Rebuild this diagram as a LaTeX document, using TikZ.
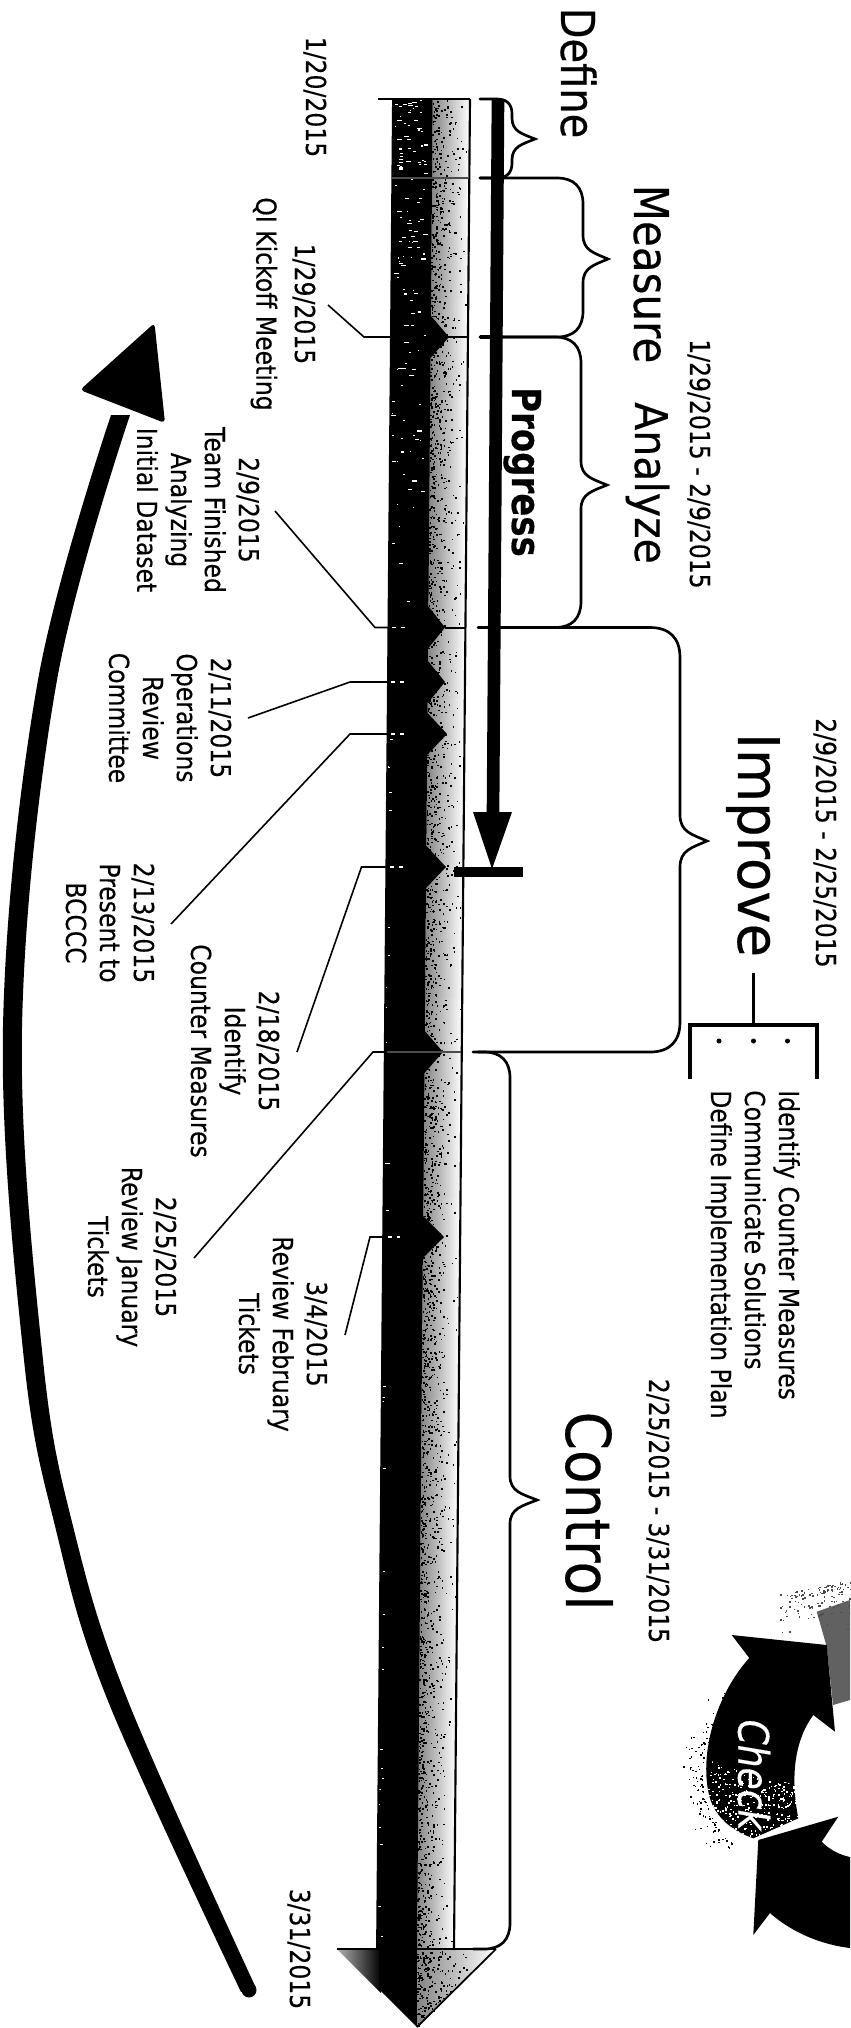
\documentclass[tikz,border=0pt]{standalone}
\usepackage{fontspec}
\setmainfont[FakeBold=0.35]{DejaVu Sans}
\usetikzlibrary{calc}
\newcommand{\fpx}[2]{\fontsize{\dimexpr #1\dimexpr 0.75pt\relax\relax}{\dimexpr #2\dimexpr 0.75pt\relax\relax}\selectfont}
% brace: x0 y0 y1 xm xt ym r h
\newcommand{\dbrace}[9][]{%
 \draw[bracel,#1] (#2,#3) -- ({#5-#8},#3) .. controls ({#5-.35*#8},#3) and (#5,{#3+.35*#8}) .. (#5,{#3+#8})
  -- (#5,{#7-#9}) .. controls (#5,{#7-.35*#9}) and ({#5+.45*(#6-#5)},{#7-.25*#9}) .. (#6,#7)
  .. controls ({#5+.45*(#6-#5)},{#7+.25*#9}) and (#5,{#7+.35*#9}) .. (#5,{#7+#9})
  -- (#5,{#4-#8}) .. controls (#5,{#4-.35*#8}) and ({#5-.35*#8},#4) .. ({#5-#8},#4) -- (#2,#4);}
\tikzset{
 txt/.style={rotate=-90,yscale=1.17,inner sep=0pt,align=center,text=black},
 small/.style={txt,font=\fpx{23.5}{29}},
 basel/.style={txt,anchor=base},
 bracel/.style={line width=2,draw=black,line cap=round},
 leader/.style={line width=1.2,draw=black},
 crossl/.style={line width=1.4,draw=black!70},
 speck/.style={white,line width=1,dash pattern=on 3 off 4},
}
\begin{document}
\begin{tikzpicture}[x=0.75pt,y=-0.75pt]
\useasboundingbox (0,0) rectangle (850,2028);
\fill[white] (0,0) rectangle (850,2028);
% ---- light band, shaded slice by slice so the gradient follows the slant
\foreach \y in {99,199,...,1899}{
 \pgfmathsetmacro\ya{\y}
 \pgfmathsetmacro\yb{min(\y+101,1950)}
 \shade[left color=black!48,middle color=black!10,right color=white]
  ({432.7-.0085*(\ya-99)},\ya) -- ({469.7-.0085*(\ya-99)},\ya) -- ({469.7-.0085*(\yb-99)},\yb) -- ({432.7-.0085*(\yb-99)},\yb) -- cycle;
}
\pgfmathsetseed{4242}
\foreach \i in {1,...,2600}{
 \pgfmathsetmacro\yy{100+rnd*1848}
 \pgfmathsetmacro\uu{rnd*rnd}
 \fill[black] ({432.7-.0085*(\yy-99)+\uu*36},\yy) rectangle ++(1.6,1.6);
}
% ---- head of the time line
\shade[left color=black!30,right color=black] (337,1949) -- (381,1949) -- (381,1993) -- cycle;
\fill[black] (379,1949) -- (417,1949) -- (417,2027) -- (379,1989) -- cycle;
\shade[left color=black!48,middle color=black!8,right color=white] (417,1949) -- (496,1949) -- (417,2027) -- cycle;
\foreach \i in {1,...,180}{
 \pgfmathsetmacro\xa{417+rnd*rnd*55}
 \pgfmathsetmacro\ya{1951+rnd*(2027-1951-(\xa-417))}
 \fill[black] (\xa,\ya) rectangle ++(1.6,1.6);
}
\draw[line width=1.3] (417,2027) -- (496,1949);
% ---- dark band with its diamonds
\fill[black] (393,99) -- (432.7,99)
 -- (430.9,316) -- (449,337) -- (430.5,358)
 -- (428.4,606.5) -- (445,627.5) -- (428,648.5)
 -- (427.9,661) -- (445,682) -- (427.6,703)
 -- (427.5,713) -- (447,734) -- (427.1,755)
 -- (426.4,846) -- (446,867) -- (426,888)
 -- (424.8,1031) -- (443,1052) -- (424.4,1073)
 -- (423.2,1216) -- (444,1237) -- (422.8,1258)
 -- (417,1950) -- (377,1950) -- cycle;
\foreach \i in {1,...,130}{
 \pgfmathsetmacro\yy{100+rnd*rnd*600}
 \pgfmathsetmacro\uu{rnd}
 \pgfmathsetmacro\ww{1+rnd*4}
 \fill[white] ({394-.0086*(\yy-99)+\uu*32},\yy) rectangle ++(\ww,1.1);
}
\foreach \i in {1,...,30}{
 \pgfmathsetmacro\yy{720+rnd*1220}
 \pgfmathsetmacro\uu{rnd}
 \fill[white] ({392-.0086*(\yy-99)+\uu*5},\yy) rectangle ++(2.5,1);
}
% ---- outline and cross lines of the bar
\draw[line width=1.4] (393,99) -- (377,1950);
\draw[line width=1.6] (470,99) -- (454,1950);
\draw[line width=1.8] (378,99) -- (470,99);
\draw[crossl] (392,178) -- (469,178);
\draw[line width=1.5] (449,337) -- (468,337);
\draw[line width=1.5] (445,627.5) -- (466,627.5);
\draw[crossl] (386,1052) -- (461,1052);
\draw[speck] (392,627.5) -- (408,627.5);
\draw[speck] (391,682) -- (408,682);
\draw[speck] (391,734) -- (408,734);
\draw[speck] (390,867) -- (408,867);
\draw[speck] (388,1237) -- (400,1237);
\draw[line width=1.8] (337,1949) -- (496,1949);
% ---- braces
\dbrace{480}{99}{178}{512}{535}{139}{15}{21}
\dbrace{480}{178}{337}{583}{608}{259}{26}{24}
\dbrace{480}{337}{627.5}{581}{607}{485}{26}{24}
\dbrace{478}{627.5}{1052}{680}{707}{841}{30}{26}
\dbrace{473}{1052}{1949}{510}{537}{1500}{26}{24}
\draw[line width=2.6] (480,337) -- (500,337);
\draw[line width=2.2] (478,627.5) -- (500,627.5);
\draw[line width=2.2] (473,1052) -- (500,1052);
% ---- progress arrow
\coordinate (pa) at (498,99);
\coordinate (pb) at (493,815);
\draw[line width=9.5] (pa) -- (pb);
\fill (473,812) -- (512,812) -- (492,869) -- cycle;
\fill (454,867) rectangle (523,877);
\node[basel,font=\fpx{34}{40}\bfseries] (prog) at (512,472) {Progress};
% ---- phase titles
\node[basel,font=\fpx{40}{46}] (define) at (561,73) {Define};
\node[basel,yscale=.975,font=\fpx{42}{46}] (measure) at (634,274) {Measure};
\node[basel,yscale=.94,font=\fpx{41}{46}] (analyze) at (635,483) {Analyze};
\node[basel,yscale=.9,font=\fpx{54.5}{60}] (improve) at (738,845) {Improve};
\node[basel,yscale=.96,font=\fpx{55}{60}] (control) at (566,1511) {Control};
\node[basel,font=\fpx{23.5}{30}] (d0) at (306,97) {1/20/2015};
\node[basel,font=\fpx{23.5}{30}] (d1) at (690,464) {1/29/2015 - 2/9/2015};
\node[basel,font=\fpx{23.5}{30}] (d2) at (816,843) {2/9/2015 - 2/25/2015};
\node[basel,font=\fpx{23.5}{30}] (d3) at (649,1511) {2/25/2015 - 3/31/2015};
\node[basel,font=\fpx{23.5}{30}] (d4) at (290,1949) {3/31/2015};
% ---- improve list
\coordinate (it) at (753.5,973);
\coordinate (lt) at (753.5,1025);
\draw[line width=2] (it) -- (lt);
\draw[line width=2.4] (690,1079) -- (690,1025) -- (817,1025) -- (817,1079);
\fill (719,1041) circle (2.5) (753.5,1041) circle (2.5) (787.5,1041) circle (2.5);
\node[txt,anchor=base west,font=\fpx{23.5}{30}] (l1) at (779,1090) {Identify Counter Measures};
\node[txt,anchor=base west,font=\fpx{23.5}{30}] (l2) at (745,1090) {Communicate Solutions};
\node[txt,anchor=base west,font=\fpx{23.5}{30}] (l3) at (711,1090) {Define Implementation Plan};
% ---- milestone labels
\node[small] (q) at (283,304) {1/29/2015\\[3pt]QI Kickoff Meeting};
\node[small] (t) at (198,510) {2/9/2015\\Team Finished\\Analyzing\\Initial Dataset};
\node[small] (o) at (170,718) {2/11/2015\\Operations\\Review\\Committee};
\node[small] (b) at (110,923) {2/13/2015\\Present to\\BCCCC};
\node[small] (i) at (235,1051) {2/18/2015\\Identify\\Counter Measures};
\node[small] (r) at (132,1257) {2/25/2015\\Review January\\Tickets};
\node[small] (f) at (283,1334) {3/4/2015\\Review February\\Tickets};
% ---- leaders
\coordinate (m1) at (392,337); \coordinate (k1) at (364,337); \coordinate (e1) at (328,305);
\coordinate (m2) at (391,627.5); \coordinate (k2) at (375,627.5); \coordinate (e2) at (275,511);
\coordinate (m3) at (390,682); \coordinate (k3) at (350,682); \coordinate (e3) at (248,718);
\coordinate (m4) at (390,734); \coordinate (k4) at (350,734); \coordinate (e4) at (171,924);
\coordinate (m5) at (389,867); \coordinate (k5) at (361.5,867); \coordinate (e5) at (297,1052);
\coordinate (m6) at (387,1052); \coordinate (k6) at (373,1052); \coordinate (e6) at (194,1258);
\coordinate (m7) at (385,1237); \coordinate (k7) at (370,1237); \coordinate (e7) at (345,1335);
\foreach \n in {1,...,7}{\draw[leader] (e\n) -- (k\n) -- (m\n);}
% ---- big curved arrow
\fill[black] plot[smooth,tension=.6] coordinates {(256,1988) (128,1701) (74,1530) (43,1360) (22,1027) (57,680) (130,415)}
 -- plot[smooth,tension=.6] coordinates {(111,415) (38,680) (3,1027) (24,1360) (56,1530) (108,1701) (241,1992)} -- cycle;
\fill[black] (249,1990) circle (7.5);
\fill[black,rounded corners=3] (154.5,323) -- (80,390) -- (165,423) -- cycle;
% ---- cycle picture
\fill[black!62] (816.7,1611.7) -- (850,1600) -- (850,1700) -- (833,1705) -- (826.7,1646.7) -- cycle;
\fill[black] (731.7,1635) -- (826.7,1645) -- (835,1731.7) -- (813.3,1715)
  .. controls (795,1740) and (790,1775) .. (798.3,1818.3) -- (753.3,1838.3)
  .. controls (730,1830) and (712,1815) .. (708,1790)
  .. controls (700,1745) and (720,1690) .. (749.3,1658) -- cycle;
\fill[black] (758.3,1840) -- (838.3,1816.7) -- (821.7,1841.7)
  .. controls (830,1850) and (840,1855) .. (850,1857) -- (850,1948)
  .. controls (825,1945) and (795,1935) .. (770,1913) -- (753.3,1935) -- cycle;
\begin{scope}
\clip (708,1760) -- (795,1785) -- (798.3,1818.3) -- (753.3,1838.3) .. controls (730,1830) and (712,1815) .. (708,1790) -- cycle;
\foreach \i in {1,...,420}{
 \pgfmathsetmacro\xa{706+rnd*92}
 \pgfmathsetmacro\ya{1760+rnd*80}
 \fill[white] (\xa,\ya) rectangle ++(1.5,1.5);
}
\end{scope}
\foreach \i in {1,...,180}{
 \pgfmathsetmacro\aa{100+rnd*130}
 \pgfmathsetmacro\rr{88+rnd*rnd*24}
 \fill[black] ({790+\rr*cos(\aa)},{1775-\rr*sin(\aa)}) rectangle ++(1.5,1.5);
}
\foreach \i in {1,...,120}{
 \pgfmathsetmacro\xa{780+rnd*70}
 \pgfmathsetmacro\ya{1590+rnd*rnd*50}
 \fill[black!70] (\xa,\ya+\xa*0-\xa*.2+160) rectangle ++(1.5,1.5);
}
\node[txt,text=white,font=\fpx{36}{40}\itshape] (check) at (754,1775) {Check};
\end{tikzpicture}
\end{document}
